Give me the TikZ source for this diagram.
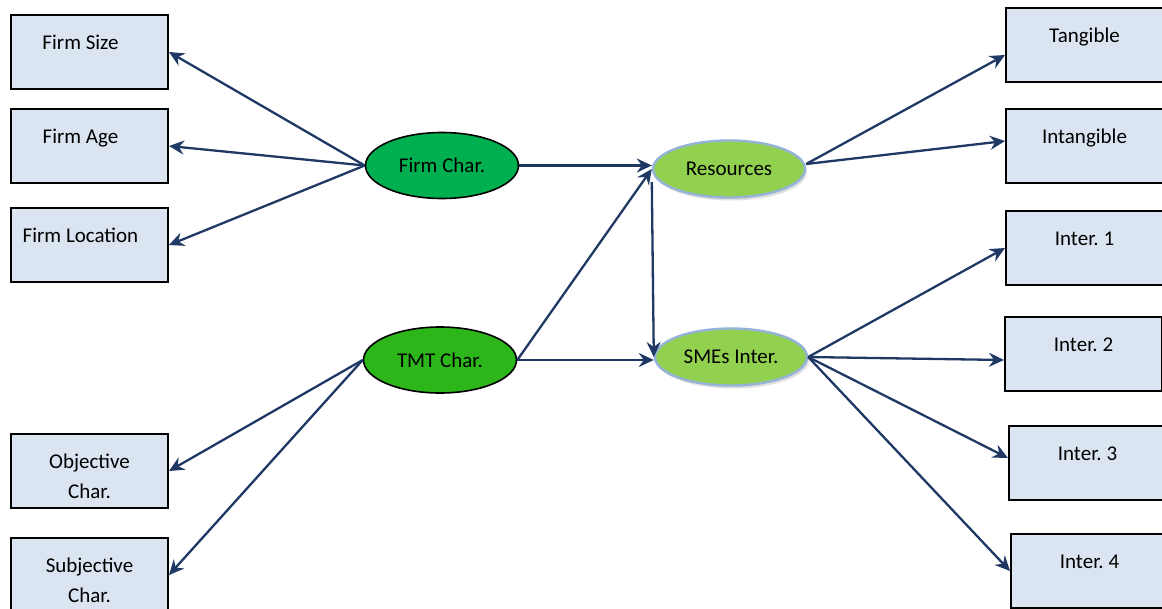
\documentclass[tikz,border=0pt]{standalone}
\usepackage{fontspec}
\setmainfont{Carlito}
\usetikzlibrary{arrows.meta,shapes.geometric,shadows}

\definecolor{boxblue}{RGB}{219,229,241}
\definecolor{arrowblue}{RGB}{31,56,100}
\definecolor{firmgreen}{RGB}{0,176,80}
\definecolor{tmtgreen}{RGB}{44,182,26}
\definecolor{lightgreen}{RGB}{146,208,80}
\definecolor{rimblue}{RGB}{149,179,215}
\frenchspacing

\begin{document}
\begin{tikzpicture}[x=1pt,y=-1pt,
    box/.style={draw=black, line width=2pt, fill=boxblue, minimum width=157pt,
        minimum height=74pt, anchor=north west, inner sep=0pt},
    boxtext/.style={label={[anchor=base, yshift=-35pt,
        font=\fontsize{21}{30}\selectfont]north:#1}},
    twotext/.style={label={[anchor=base, yshift=-65pt, align=center,
        font=\fontsize{21}{30}\selectfont]north:#1}},
    lefttext/.style={label={[anchor=base, yshift=-35pt, xshift=-9pt,
        font=\fontsize{21}{30}\selectfont]north:#1}},
    oval/.style={ellipse, draw=black, line width=1.6pt, minimum width=153pt,
        minimum height=66pt, inner sep=0pt, font=\fontsize{21}{24}\selectfont},
    softoval/.style={ellipse, draw=rimblue, line width=2.4pt, fill=lightgreen,
        minimum width=152pt, minimum height=57pt, inner sep=0pt,
        font=\fontsize{21}{24}\selectfont,
        drop shadow={shadow xshift=2pt, shadow yshift=-3pt, fill=black!25}},
    arr/.style={draw=arrowblue, line width=2.3pt,
        -{Stealth[length=15pt, width=14pt, inset=5pt]}}
  ]

    \useasboundingbox (0,0) rectangle (1162,608);

    % left column
    \node[box, lefttext=Firm Size] (fsize) at (10,14) {};
    \node[box, lefttext=Firm Age] (fage) at (10,108) {};
    \node[box, lefttext=Firm Location] (floc) at (10,207) {};
    \node[box, twotext={Objective\\Char.}] (obj) at (10,433) {};
    \node[box, twotext={Subjective\\Char.}] (subj) at (10,537) {};

    % right column
    \node[box, boxtext=Tangible] (tang) at (1005,7) {};
    \node[box, boxtext=Intangible] (intang) at (1005,108) {};
    \node[box, boxtext=Inter. 1] (int1) at (1005,210) {};
    \node[box, boxtext=Inter. 2] (int2) at (1004,316) {};
    \node[box, boxtext=Inter. 3] (int3) at (1008,425) {};
    \node[box, boxtext=Inter. 4] (int4) at (1010,533) {};

    % ellipses
    \node[oval, fill=firmgreen] (fchar) at (442,165.5) {Firm Char.};
    \node[oval, fill=tmtgreen] (tmt) at (440,360) {TMT Char.};
    \node[softoval] (res) at (729,169) {Resources};
    \node[softoval] (sme) at (731,357) {SMEs Inter.};

    % arrows
    \draw[arr] (fchar.west) -- (fsize.east);
    \draw[arr] (fchar.west) -- (fage.east);
    \draw[arr] (fchar.west) -- (floc.east);
    \draw[arr] (tmt.west) -- (obj.east);
    \draw[arr] (tmt.west) -- (subj.east);

    \draw[arr] (fchar.east) -- (fchar.east -| res.west);
    \draw[arr] (tmt.east) -- (res.west);
    \draw[arr] (tmt.east) -- (tmt.east -| sme.west);
    \draw[arr] ([yshift=-13pt]res.west) -- (sme.west);

    \draw[arr] ([yshift=5pt]res.east) -- ([yshift=-10pt]tang.west);
    \draw[arr] ([yshift=5pt]res.east) -- ([yshift=5pt]intang.west);
    \draw[arr] (sme.east) -- (int1.west);
    \draw[arr] (sme.east) -- ([yshift=-6pt]int2.west);
    \draw[arr] (sme.east) -- ([yshift=5pt]int3.west);
    \draw[arr] (sme.east) -- (int4.west);

\end{tikzpicture}
\end{document}
